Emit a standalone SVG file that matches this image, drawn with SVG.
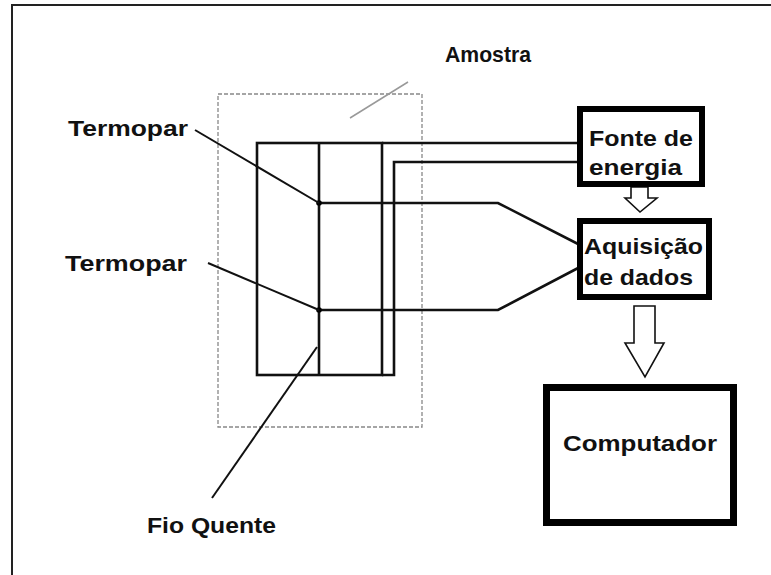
<svg xmlns="http://www.w3.org/2000/svg" width="771" height="575" viewBox="0 0 771 575">
<style>
text{font-family:"Liberation Sans",Arial,sans-serif;font-weight:bold;font-size:22px;fill:#111}
.wire{fill:none;stroke:#111;stroke-width:2.6}
.lead{fill:none;stroke:#111;stroke-width:2}
.box{fill:#fff;stroke:#000}
.harrow{fill:#fff;stroke:#111;stroke-width:1.6;stroke-linejoin:miter}
</style>
<rect x="0" y="0" width="771" height="575" fill="#fff"/>
<g id="frame">
<line x1="11" y1="5" x2="771" y2="5" stroke="#222" stroke-width="2"/>
<line x1="12" y1="4" x2="12" y2="575" stroke="#222" stroke-width="2"/>
</g>
<g id="amostra">
<rect x="218" y="94" width="204" height="333" fill="none" stroke="#888" stroke-width="1.3" stroke-dasharray="4,2"/>
<line x1="350" y1="118" x2="408" y2="82" stroke="#999" stroke-width="1.5"/>
<text x="445" y="62" textLength="86" lengthAdjust="spacingAndGlyphs">Amostra</text>
</g>
<g id="sample">
<rect x="257" y="143" width="125" height="232" class="wire"/>
<line x1="319" y1="143" x2="319" y2="375" class="wire"/>
</g>
<g id="connectors">
<polyline points="382,143 580,143" class="wire"/>
<polyline points="580,162 394,162 394,375 382,375" class="wire"/>
<polyline points="319,203 498,203 580,245" class="wire"/>
<polyline points="319,310 498,310 580,267" class="wire"/>
<circle cx="319" cy="203" r="2.8" fill="#000"/>
<circle cx="319" cy="310" r="2.8" fill="#000"/>
<line x1="195" y1="130" x2="319" y2="203" class="lead"/>
<line x1="208" y1="263" x2="319" y2="310" class="lead"/>
<line x1="317" y1="347" x2="212" y2="498" class="lead"/>
<polygon points="631,187 648,187 648,198 657,198 640,212 625,198 631,198" class="harrow"/>
<polygon points="634,306 655,306 655,343 664,343 645,377 625,343 634,343" class="harrow"/>
</g>
<g id="termopar1">
<text x="68" y="136" textLength="120" lengthAdjust="spacingAndGlyphs">Termopar</text>
</g>
<g id="termopar2">
<text x="65" y="271" textLength="122" lengthAdjust="spacingAndGlyphs">Termopar</text>
</g>
<g id="fioquente">
<text x="147" y="533" textLength="129" lengthAdjust="spacingAndGlyphs">Fio Quente</text>
</g>
<g id="fonte">
<rect x="580" y="109" width="122" height="75" class="box" stroke-width="6"/>
<text x="589" y="146" textLength="104" lengthAdjust="spacingAndGlyphs">Fonte de</text>
<text x="589" y="175" textLength="93" lengthAdjust="spacingAndGlyphs">energia</text>
</g>
<g id="aquisicao">
<rect x="580" y="221" width="129" height="76" class="box" stroke-width="6"/>
<text x="584" y="254" textLength="119" lengthAdjust="spacingAndGlyphs">Aquisição</text>
<text x="584" y="285" textLength="109" lengthAdjust="spacingAndGlyphs">de dados</text>
</g>
<g id="computador">
<rect x="546.5" y="387.5" width="187" height="135" class="box" stroke-width="7"/>
<text x="563" y="451" textLength="154" lengthAdjust="spacingAndGlyphs">Computador</text>
</g>
</svg>
